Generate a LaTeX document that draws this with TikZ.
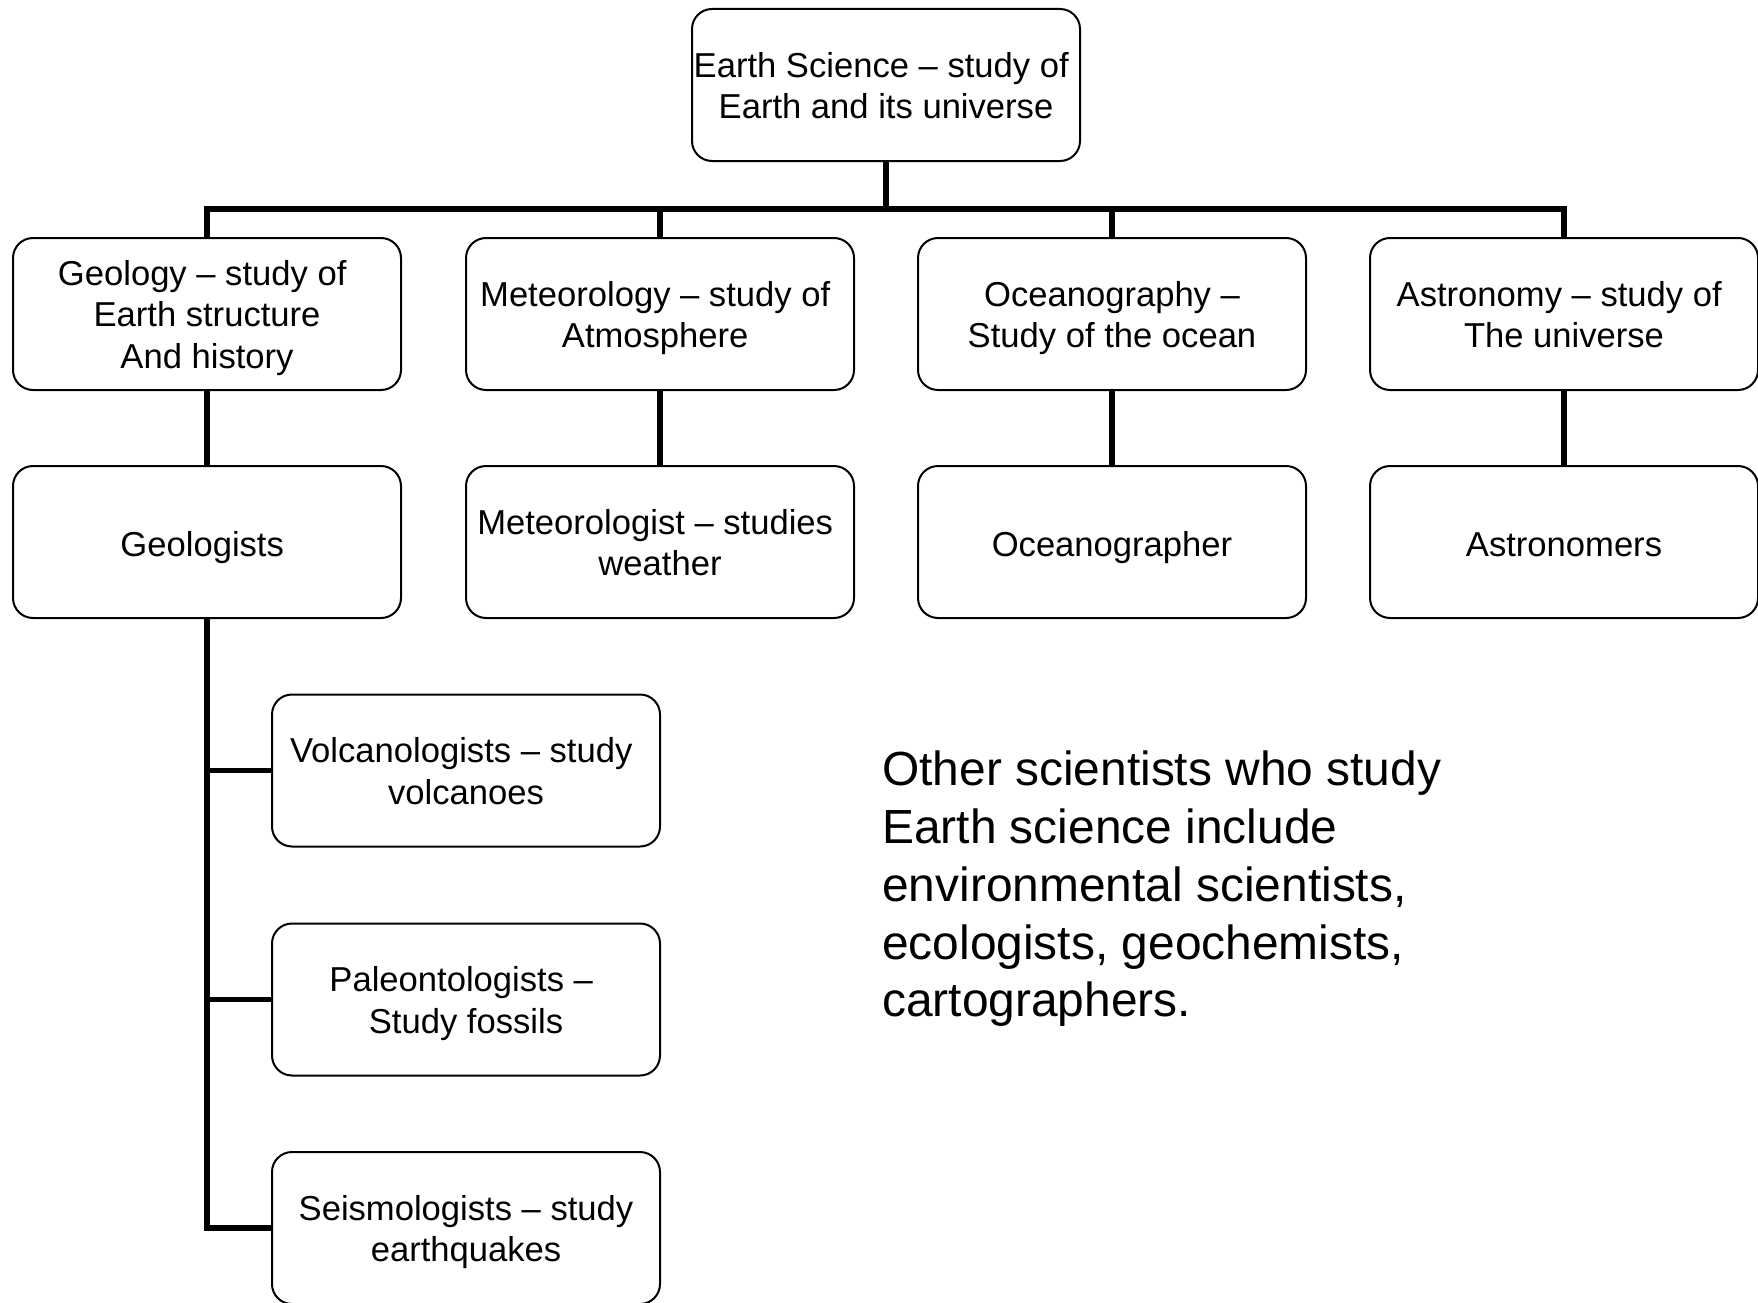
\documentclass[tikz,border=0pt]{standalone}
\usepackage{fontspec}
\setmainfont{Liberation Sans}
\newcommand{\trsp}{\hspace*{9.6pt}}
\begin{document}
\begin{tikzpicture}[x=1pt,y=-1pt,
  box/.style={draw, line width=2pt, rounded corners=20pt, minimum width=388pt, minimum height=152pt, inner sep=0pt},
  lbl/.style={inner sep=0pt, align=center, yshift=-6.5pt, font=\fontsize{34.6}{41.5}\selectfont, execute at begin node=\strut, execute at end node=\strut},
  conn/.style={line width=5.5pt}]
\useasboundingbox (0,0) rectangle (1758,1303);
\clip (0,0) rectangle (1758,1303);
\fill[white] (0,0) rectangle (1758,1303);
\node[box, label={[lbl]center:{Earth Science – study of\trsp\\Earth and its universe}}] (top) at (886,85) {};
\node[box, label={[lbl]center:{Geology – study of\trsp\\Earth structure\trsp\\And history}}] (geo) at (207,314) {};
\node[box, label={[lbl]center:{Meteorology – study of\trsp\\Atmosphere\trsp}}] (met) at (660,314) {};
\node[box, label={[lbl]center:{Oceanography –\\Study of the ocean}}] (oce) at (1112,314) {};
\node[box, label={[lbl]center:{Astronomy – study of\trsp\\The universe}}] (ast) at (1564,314) {};
\node[box, label={[lbl]center:{Geologists\trsp}}] (geol) at (207,542) {};
\node[box, label={[lbl]center:{Meteorologist – studies\trsp\\weather}}] (metl) at (660,542) {};
\node[box, label={[lbl]center:{Oceanographer}}] (ocel) at (1112,542) {};
\node[box, label={[lbl]center:{Astronomers}}] (astl) at (1564,542) {};
\node[box, label={[lbl]center:{Volcanologists – study\trsp\\volcanoes}}] (volc) at (466,770.5) {};
\node[box, label={[lbl]center:{Paleontologists –\trsp\\Study fossils}}] (pal) at (466,999.5) {};
\node[box, label={[lbl]center:{Seismologists – study\\earthquakes}}] (seis) at (466,1228) {};
\coordinate (bus) at (886,209);
\draw[conn] (top.south) -- (bus);
\draw[conn] (geo.north) |- (bus) -| (ast.north);
\draw[conn] (met.north) -- (met.north |- bus);
\draw[conn] (oce.north) -- (oce.north |- bus);
\draw[conn] (geo.south) -- (geol.north);
\draw[conn] (met.south) -- (metl.north);
\draw[conn] (oce.south) -- (ocel.north);
\draw[conn] (ast.south) -- (astl.north);
\draw[conn] (geol.south) |- (seis.west);
\draw[conn] (geol.south |- volc.west) -- (volc.west);
\draw[conn] (geol.south |- pal.west) -- (pal.west);
\node[anchor=north west, align=left, inner sep=0pt, font=\fontsize{47.9}{57.7}\selectfont] (other) at (882,751) {Other scientists who study\\Earth science include\\environmental scientists,\\ecologists, geochemists,\\cartographers.};
\end{tikzpicture}
\end{document}
